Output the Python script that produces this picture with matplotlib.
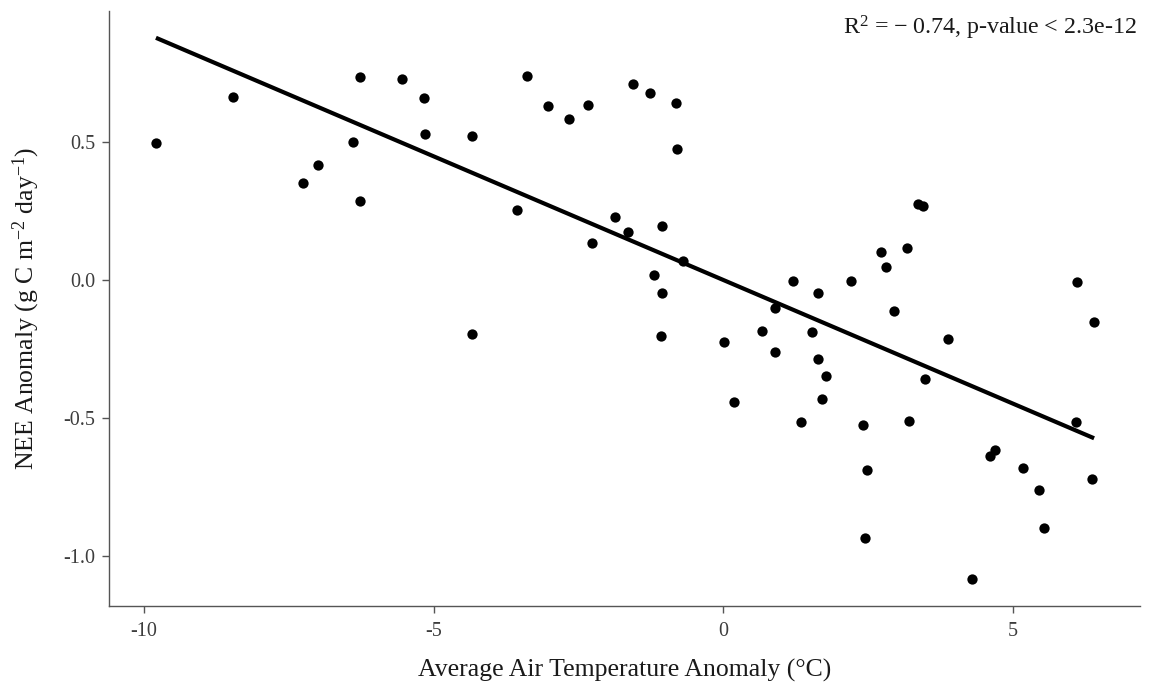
import numpy as np
import matplotlib
matplotlib.use("Agg")
import matplotlib.pyplot as plt

# Data
temp_anom = [-9.79, -8.46, -6.264, -5.545, -5.17, -5.155, -4.33, -6.39, -6.99, -7.26,
             -6.27, -3.39, -3.02, -2.67, -2.33, -3.56, -2.27, -1.876, -4.33,
             -1.563, -1.27, -0.815, -0.80, -1.636, -1.058, -0.692, -1.19, -1.063,
             0.889, 1.20, 1.64, 2.20, 2.73, 2.806, 3.177, 3.353, 3.444, 2.95, 6.10,
             -1.082, 0.007, 0.178, 0.67, 0.90, 1.54, 1.63, 1.78, 1.70, 1.34,
             2.41, 2.48, 2.44, 3.20, 3.48, 3.88, 4.30, 4.69, 4.61, 5.17, 5.45,
             5.54, 6.08, 6.37, 6.40]
nee_anom = [0.498, 0.662, 0.737, 0.729, 0.659, 0.530, 0.521, 0.500, 0.417, 0.351,
            0.285, 0.740, 0.630, 0.584, 0.635, 0.254, 0.133, 0.227, -0.195,
            0.711, 0.679, 0.643, 0.476, 0.173, 0.197, 0.070, 0.017, -0.046,
            -0.103, -0.004, -0.048, -0.004, 0.100, 0.046, 0.115, 0.276, 0.269, -0.111, -0.006,
            -0.205, -0.224, -0.441, -0.186, -0.261, -0.190, -0.287, -0.349, -0.431, -0.514,
            -0.525, -0.690, -0.937, -0.511, -0.358, -0.213, -1.084, -0.618, -0.637, -0.682, -0.763,
            -0.898, -0.516, -0.720, -0.152]

x_ticks = [-10, -5, 0, 5]
y_ticks = [-1.0, -0.5, 0.0, 0.5]
annotation = "R$^{2}$ = \u2212\u20090.74, p-value < 2.3e-12"

plt.rcParams['font.family'] = ['Liberation Serif', 'DejaVu Serif']
plt.rcParams['mathtext.fontset'] = 'custom'
plt.rcParams['mathtext.rm'] = 'Liberation Serif'
plt.rcParams['mathtext.it'] = 'Liberation Serif:italic'

fig = plt.figure(figsize=(11.5, 6.9), dpi=100)
ax = fig.add_axes([0.0948, 0.1222, 0.8969, 0.8618])

x = np.array(temp_anom)
y = np.array(nee_anom)
ax.scatter(x, y, s=55, color='black', zorder=3, linewidths=0)

slope, intercept = np.polyfit(x, y, 1)
xl = np.array([x.min(), x.max()])
ax.plot(xl, intercept + slope * xl, color='black', lw=3.0, zorder=2, solid_capstyle='butt')

ax.set_xlim(-10.6, 7.2)
ax.set_ylim(-1.181, 0.975)
ax.set_xticks(x_ticks)
ax.set_xticklabels([str(v) for v in x_ticks])
ax.set_yticks(y_ticks)
ax.set_yticklabels([f"{v:.1f}" for v in y_ticks])

for s in ['top', 'right']:
    ax.spines[s].set_visible(False)
for s in ['left', 'bottom']:
    ax.spines[s].set_color('#555555')
    ax.spines[s].set_linewidth(1.0)
ax.tick_params(axis='both', colors='#555555', length=5, width=1.0, labelsize=14.5,
               labelcolor='#3d3d3d')
ax.tick_params(axis='x', pad=7)
ax.tick_params(axis='y', pad=5)

ax.set_xlabel("Average Air Temperature Anomaly (\u00b0C)", fontsize=18.5, color='#1a1a1a', labelpad=13)
ax.set_ylabel("NEE Anomaly (g C m$^{-2}$ day$^{-1}$)", fontsize=18.5, color='#1a1a1a', labelpad=15)

ax.text(0.996, 0.995, annotation, transform=ax.transAxes, ha='right', va='top',
        fontsize=17.3, color='#1a1a1a')

fig.savefig("out.png", dpi=100)
